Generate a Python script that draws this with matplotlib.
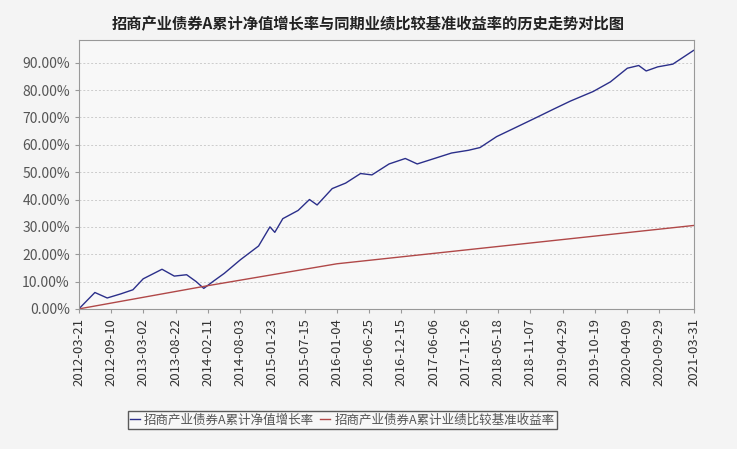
import matplotlib
matplotlib.use("Agg")
import matplotlib.pyplot as plt
import matplotlib.dates as mdates
import pandas as pd

plt.rcParams['font.family'] = ['Noto Sans CJK SC', 'DejaVu Sans']

fund_dates = ["2012-03-21","2012-05-10","2012-06-15","2012-08-20","2012-11-01","2013-01-05","2013-03-01",
"2013-06-10","2013-08-15","2013-10-20","2013-12-10","2014-01-20","2014-03-10","2014-05-10","2014-08-05",
"2014-11-10","2015-01-10","2015-02-05","2015-03-20","2015-06-10","2015-08-10","2015-09-20","2015-12-10",
"2016-02-20","2016-05-10","2016-07-10","2016-10-10","2017-01-05","2017-03-10","2017-06-10","2017-09-10",
"2017-12-10","2018-02-10","2018-05-10","2018-08-10","2018-12-10","2019-03-10","2019-06-10","2019-10-10",
"2020-01-10","2020-04-10","2020-06-10","2020-07-20","2020-09-20","2020-12-10","2021-03-31"]
fund_values = [0,3.5,6,4,5.5,7,11,14.5,12,12.5,10,7.5,10,13,18,23,30,28,33,36,40,38,44,46,49.5,49,53,55,53,
55,57,58,59,63,66,70,73,76,79.5,83,88,89,87,88.5,89.5,94.5]

bench_dates = ["2012-03-21","2014-02-11","2016-01-04","2021-03-31"]
bench_values = [0,8.5,16.5,30.5]

tick_labels = ["2012-03-21","2012-09-10","2013-03-02","2013-08-22","2014-02-11","2014-08-03","2015-01-23",
"2015-07-15","2016-01-04","2016-06-25","2016-12-15","2017-06-06","2017-11-26","2018-05-18","2018-11-07",
"2019-04-29","2019-10-19","2020-04-09","2020-09-29","2021-03-31"]
y_ticks = [0,10,20,30,40,50,60,70,80,90]

fig = plt.figure(figsize=(7.37,4.49), dpi=100, facecolor='#f4f4f4')
ax = fig.add_axes([0.107, 0.312, 0.834, 0.60])
ax.set_facecolor('#f8f8f8')
fd = pd.to_datetime(fund_dates); bd = pd.to_datetime(bench_dates)
l1, = ax.plot(fd, fund_values, color='#2b2f8a', lw=1.0, label='招商产业债券A累计净值增长率')
l2, = ax.plot(bd, bench_values, color='#b04848', lw=1.0, label='招商产业债券A累计业绩比较基准收益率')
td = pd.to_datetime(tick_labels)
ax.set_xticks(td)
ax.set_xticklabels(tick_labels, rotation=90, fontsize=9.5, color='#333333')
ax.set_xlim(td[0], td[-1])
ax.set_ylim(0, 98.5)
ax.set_yticks(y_ticks)
ax.set_yticklabels([f"{v:.2f}%" for v in y_ticks], fontsize=10, color='#555555')
ax.yaxis.grid(True, ls=(0,(2,2)), color='#cccccc', lw=0.7)
for s in ax.spines.values():
    s.set_color('#999999')
ax.tick_params(length=3, color='#999999')
fig.text(0.5, 0.965, '招商产业债券A累计净值增长率与同期业绩比较基准收益率的历史走势对比图',
         ha='center', va='top', fontsize=11, fontweight='bold', color='#222222')
fig.legend(handles=[l1, l2], loc='lower left', bbox_to_anchor=(0.165, 0.03), ncol=2, fontsize=9,
           frameon=True, fancybox=False, edgecolor='#333333', handlelength=0.8, handletextpad=0.3,
           columnspacing=0.5, borderpad=0.2, facecolor='#f8f8f8', labelcolor='#555555')
fig.savefig('out.png', dpi=100, facecolor=fig.get_facecolor())
